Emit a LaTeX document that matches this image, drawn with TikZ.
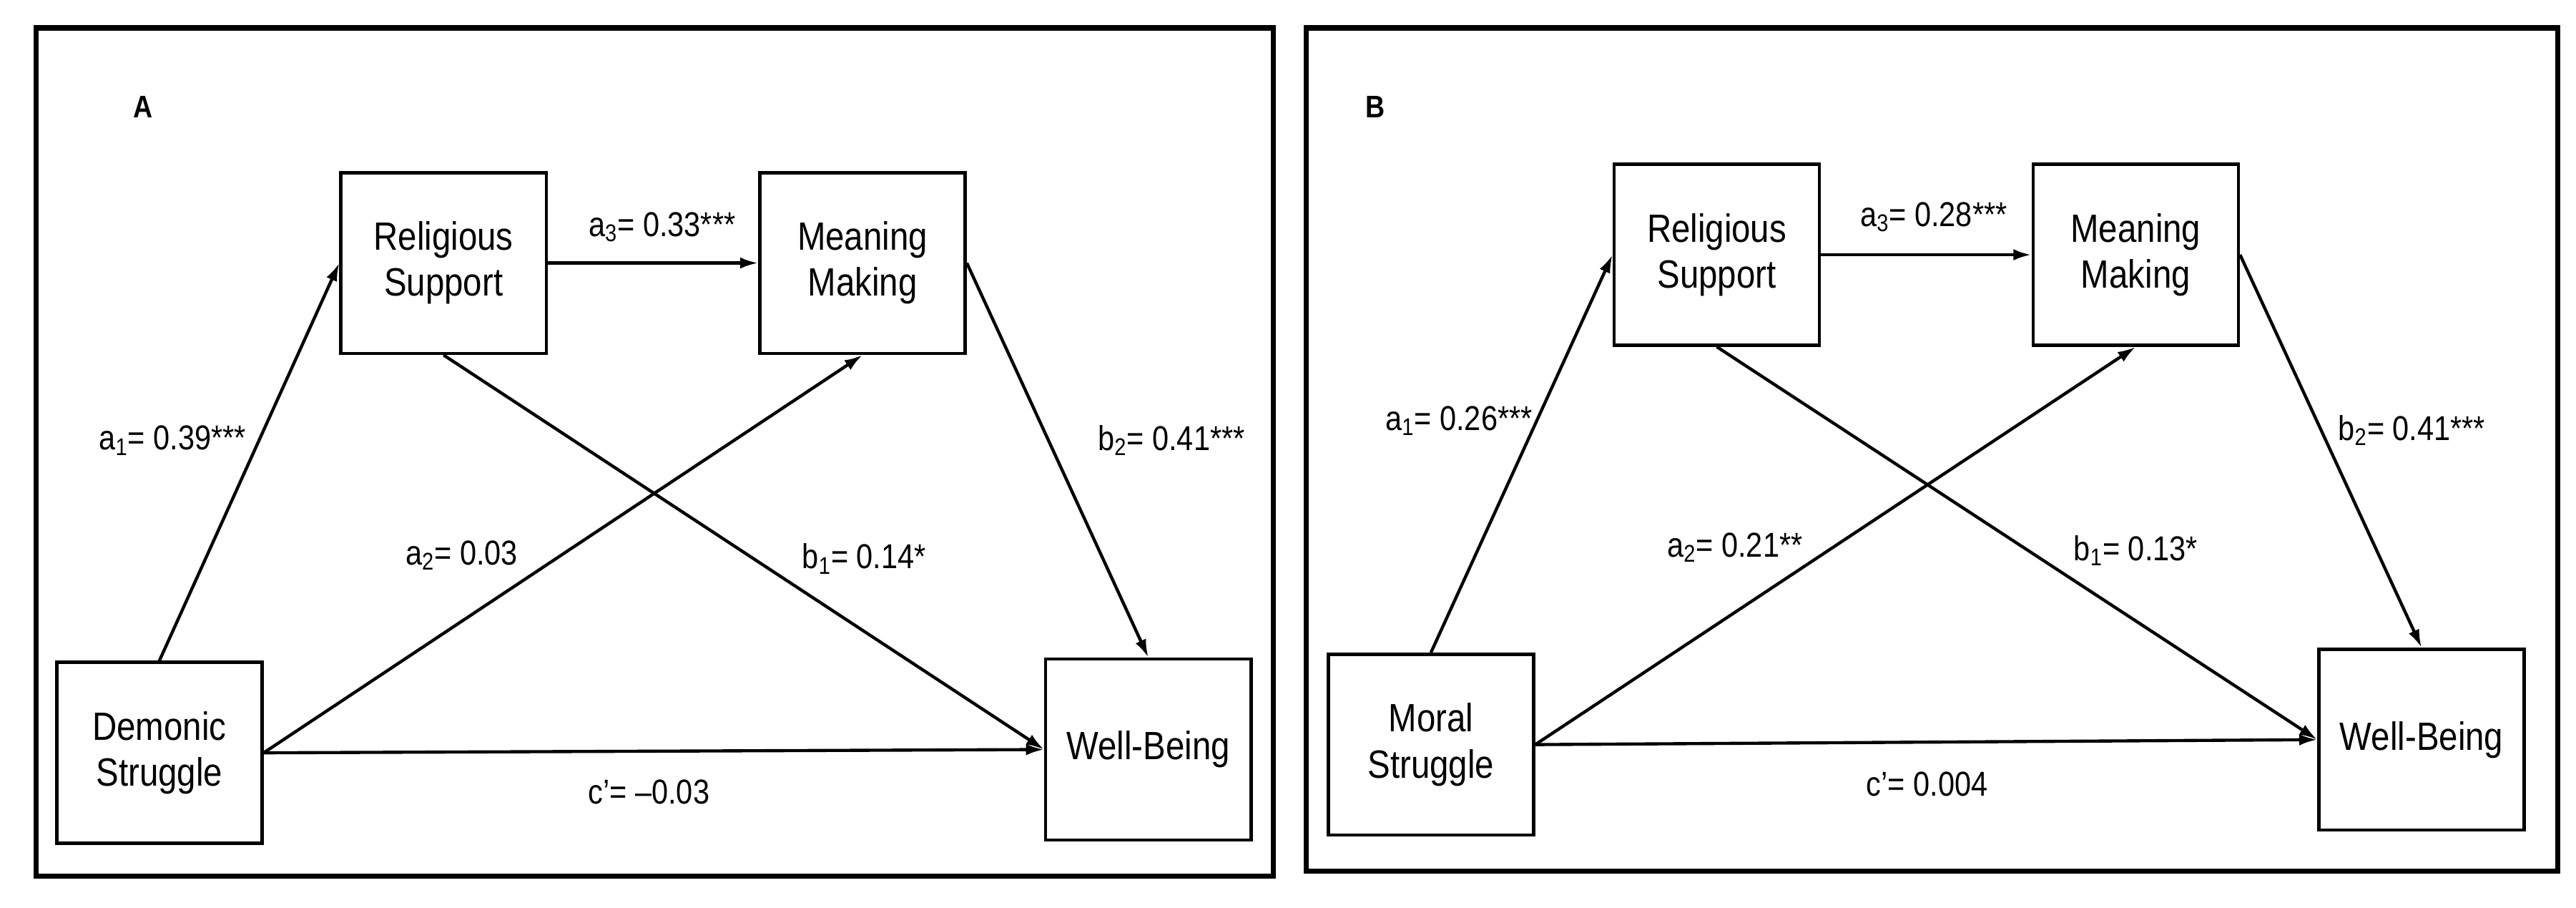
\documentclass[tikz,border=0pt]{standalone}
\usepackage{fontspec}
\setmainfont{Liberation Sans}[FakeStretch=0.86]
\usetikzlibrary{arrows.meta,positioning}

\begin{document}
\begin{tikzpicture}[x=1pt,y=-1pt,
  every text node part/.style={align=center},
  box/.style={draw, line width=2pt, minimum width=125pt, minimum height=110pt, font=\fontsize{24}{28}\selectfont},
  lbl/.style={font=\fontsize{21}{24}\selectfont},
  path/.style={->, line width=1.9pt, >={Latex[length=11pt,width=7pt]}}]
  \useasboundingbox (0,0) rectangle (1568,552);
  \draw[line width=3.2pt] (22,17) rectangle (775,533);
  \draw[line width=3.2pt] (795,17) rectangle (1557,530);
  % panel A
  \node[font=\bfseries\fontsize{19}{20}\selectfont] (tagA) at (87,65) {A};
  \node (relA) [box] at (270,160) {Religious\\Support};
  \node (meanA) [box] at (525,160) {Meaning\\Making};
  \node (demA) [box] at (97,458) {Demonic\\Struggle};
  \node (wellA) [box] at (699,456) {Well-Being};
  \draw[path] (demA.north) -- (relA.west);
  \draw[path] (relA.east) -- (meanA.west);
  \draw[path] (demA.east) -- (meanA.south);
  \draw[path] (relA.south) -- (wellA.west);
  \draw[path] (meanA.east) -- (wellA.north);
  \draw[path] (demA.east) -- (wellA.west);
  \node[lbl] (a1A) at (105,268) {a\textsubscript{1}= 0.39***};
  \node[lbl] (a3A) at (403,138) {a\textsubscript{3}= 0.33***};
  \node[lbl] (a2A) at (281,338) {a\textsubscript{2}= 0.03};
  \node[lbl] (b1A) at (526,340) {b\textsubscript{1}= 0.14*};
  \node[lbl] (b2A) at (713,268) {b\textsubscript{2}= 0.41***};
  \node[lbl] (cA) at (395,482) {c’= –0.03};
  % panel B
  \node[font=\bfseries\fontsize{19}{20}\selectfont] (tagB) at (837,65) {B};
  \node (relB) [box] at (1045,155) {Religious\\Support};
  \node (meanB) [box] at (1300,155) {Meaning\\Making};
  \node (morB) [box] at (871,453) {Moral\\Struggle};
  \node (wellB) [box] at (1474,450) {Well-Being};
  \draw[path] (morB.north) -- (relB.west);
  \draw[path] (relB.east) -- (meanB.west);
  \draw[path] (morB.east) -- (meanB.south);
  \draw[path] (relB.south) -- (wellB.west);
  \draw[path] (meanB.east) -- (wellB.north);
  \draw[path] (morB.east) -- (wellB.west);
  \node[lbl] (a1B) at (888,256) {a\textsubscript{1}= 0.26***};
  \node[lbl] (a3B) at (1177,132) {a\textsubscript{3}= 0.28***};
  \node[lbl] (a2B) at (1056,333) {a\textsubscript{2}= 0.21**};
  \node[lbl] (b1B) at (1300,335) {b\textsubscript{1}= 0.13*};
  \node[lbl] (b2B) at (1468,262) {b\textsubscript{2}= 0.41***};
  \node[lbl] (cB) at (1173,477) {c’= 0.004};
\end{tikzpicture}
\end{document}
